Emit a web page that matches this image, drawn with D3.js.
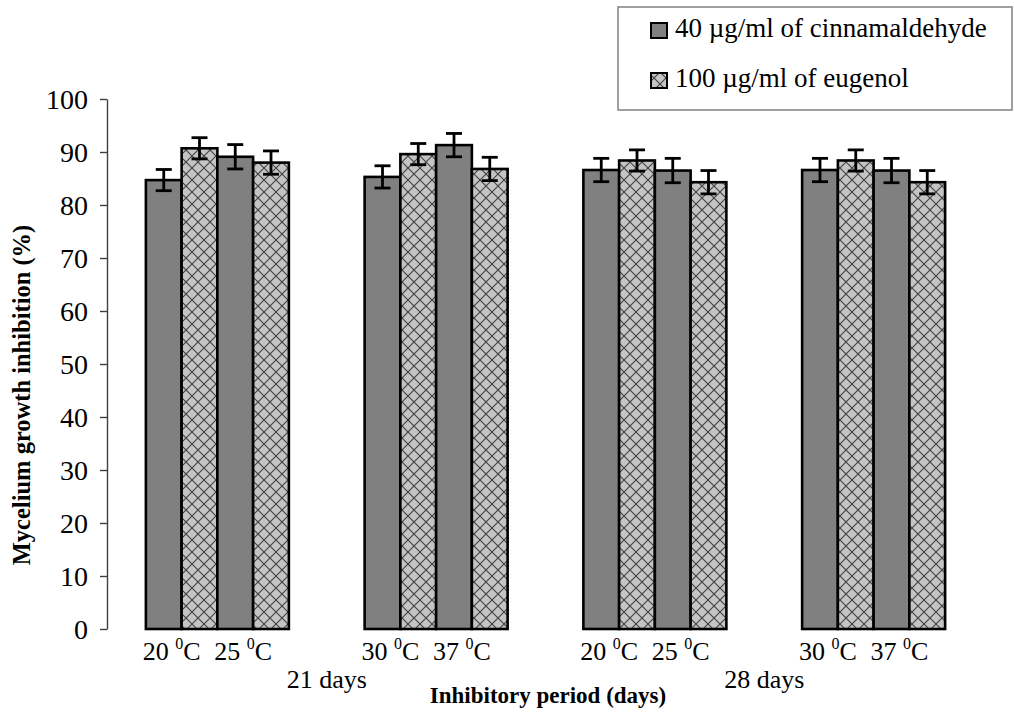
<!DOCTYPE html>
<html>
<head>
<meta charset="utf-8">
<script src="https://cdn.jsdelivr.net/npm/d3@7/dist/d3.min.js"></script>
<style>
  body { margin: 0; background: #fff; }
</style>
</head>
<body>
<svg id="chart" width="1014" height="713"></svg>
<script>
// data
const periods = ["21 days", "28 days"];
const groups = ["g1", "g2", "g3", "g4"];
const temps = [["20", "25"], ["30", "37"], ["20", "25"], ["30", "37"]];
const seriesNames = ["40 \u00b5g/ml of cinnamaldehyde", "100 \u00b5g/ml of eugenol"];
// order: 21 days 20,25,30,37 then 28 days 20,25,30,37
const cinnamaldehyde = [84.7, 89.1, 85.3, 91.3, 86.6, 86.5, 86.6, 86.5];
const eugenol        = [90.7, 88.0, 89.6, 86.8, 88.4, 84.3, 88.4, 84.3];
const cinnErr        = [2.0, 2.3, 2.1, 2.2, 2.2, 2.3, 2.2, 2.3];
const eugErr         = [2.0, 2.2, 2.0, 2.2, 2.0, 2.2, 2.0, 2.2];
const yTicks = [0, 10, 20, 30, 40, 50, 60, 70, 80, 90, 100];

const FONT = "Liberation Serif";
const svg = d3.select("#chart");

// pattern for eugenol bars
const defs = svg.append("defs");
const pat = defs.append("pattern")
    .attr("id", "cross").attr("patternUnits", "userSpaceOnUse")
    .attr("width", 12).attr("height", 12);
pat.append("rect").attr("width", 12).attr("height", 12).attr("fill", "#c4c4c4");
pat.append("path").attr("d", "M0,0L12,12M12,0L0,12")
    .attr("stroke", "#404040").attr("stroke-width", 1.1);

const y = d3.scaleLinear().domain([0, 100]).range([629, 99]);
const x0 = d3.scaleBand().domain(groups).range([108, 983])
    .paddingInner(0.3463).paddingOuter(0.3463 / 2);
const x1 = d3.scaleBand().domain([0, 1, 2, 3]).range([0, x0.bandwidth()]);
const xPair = d3.scaleBand().domain([0, 1]).range([0, x0.bandwidth()]);

// flatten bars
const bars = [];
groups.forEach((g, gi) => {
  [0, 1].forEach(ti => {
    const k = gi * 2 + ti;
    bars.push({ g, slot: ti * 2, v: cinnamaldehyde[k], e: cinnErr[k], s: 0 });
    bars.push({ g, slot: ti * 2 + 1, v: eugenol[k], e: eugErr[k], s: 1 });
  });
});

svg.append("g").selectAll("rect").data(bars).join("rect")
    .attr("x", d => x0(d.g) + x1(d.slot))
    .attr("y", d => y(d.v))
    .attr("width", x1.bandwidth())
    .attr("height", d => y(0) - y(d.v))
    .attr("fill", d => d.s === 0 ? "#808080" : "url(#cross)")
    .attr("stroke", "#000").attr("stroke-width", 2.6);

// error bars
const eb = svg.append("g").attr("stroke", "#000").attr("stroke-width", 2.8);
bars.forEach(d => {
  const cx = x0(d.g) + x1(d.slot) + x1.bandwidth() / 2;
  eb.append("line").attr("x1", cx).attr("x2", cx).attr("y1", y(d.v + d.e)).attr("y2", y(d.v - d.e));
  eb.append("line").attr("x1", cx - 8).attr("x2", cx + 8).attr("y1", y(d.v + d.e)).attr("y2", y(d.v + d.e));
  eb.append("line").attr("x1", cx - 8).attr("x2", cx + 8).attr("y1", y(d.v - d.e)).attr("y2", y(d.v - d.e));
});

// y axis
const yAxis = svg.append("g").attr("transform", "translate(107,0)")
    .call(d3.axisLeft(y).tickValues(yTicks).tickSize(7).tickSizeOuter(0).tickPadding(12));
yAxis.attr("font-family", FONT).attr("font-size", 28);
yAxis.select(".domain").attr("stroke", "#404040").attr("stroke-width", 1.4);
yAxis.selectAll(".tick line").attr("stroke", "#404040").attr("stroke-width", 1.4);
yAxis.selectAll(".tick text").attr("font-family", FONT).attr("font-size", 28)
    .attr("fill", "#000").attr("dy", "0.34em");

// temperature labels
groups.forEach((g, gi) => {
  temps[gi].forEach((t, ti) => {
    const cx = x0(g) + xPair(ti) + xPair.bandwidth() / 2 - 10;
    const txt = svg.append("text").attr("x", cx).attr("y", 660)
        .attr("text-anchor", "middle").attr("font-family", FONT).attr("font-size", 26);
    txt.append("tspan").text(t + " ");
    txt.append("tspan").attr("dy", -11).attr("font-size", 16).text("0");
    txt.append("tspan").attr("dy", 11).text("C");
  });
});

// period labels
periods.forEach((p, pi) => {
  const a = x0(groups[pi * 2]), b = x0(groups[pi * 2 + 1]) + x0.bandwidth();
  svg.append("text").attr("x", (a + b) / 2).attr("y", 688)
      .attr("text-anchor", "middle").attr("font-family", FONT).attr("font-size", 26).text(p);
});

// axis titles
svg.append("text").attr("x", 548).attr("y", 703).attr("text-anchor", "middle")
    .attr("font-family", FONT).attr("font-size", 23).attr("font-weight", "bold")
    .text("Inhibitory period (days)");
svg.append("text").attr("transform", "translate(30,395) rotate(-90)")
    .attr("text-anchor", "middle")
    .attr("font-family", FONT).attr("font-size", 24.5).attr("font-weight", "bold")
    .text("Mycelium growth inhibition (%)");

// legend
const lg = svg.append("g");
lg.append("rect").attr("x", 618).attr("y", 7).attr("width", 394).attr("height", 103)
    .attr("fill", "#fff").attr("stroke", "#808080").attr("stroke-width", 1.5);
seriesNames.forEach((n, i) => {
  const yy = 37 + i * 50;
  lg.append("rect").attr("x", 651).attr("y", yy - 14).attr("width", 16).attr("height", 15)
      .attr("fill", i === 0 ? "#808080" : "url(#cross)").attr("stroke", "#000").attr("stroke-width", 2);
  lg.append("text").attr("x", 675).attr("y", yy)
      .attr("font-family", FONT).attr("font-size", 27).text(n);
});
</script>
</body>
</html>
